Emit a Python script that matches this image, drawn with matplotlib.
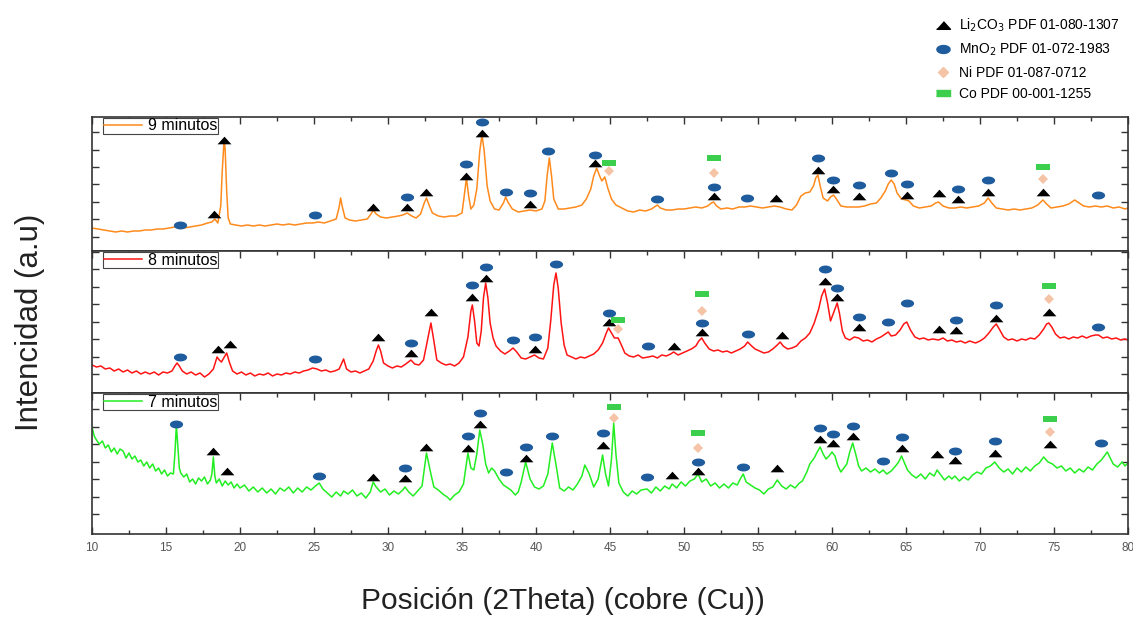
import matplotlib
matplotlib.use("Agg")
import matplotlib.pyplot as plt
from matplotlib.lines import Line2D
from matplotlib.ticker import MultipleLocator
import numpy as np

plt.rcParams['font.family'] = ['Liberation Sans', 'DejaVu Sans']

# XRD scans: (2theta, intensity a.u.)
scan_9min = [(10.0, 23), (10.4, 22), (10.8, 21), (11.2, 20), (11.6, 19), (12.0, 20), (12.4, 19),
             (12.8, 20), (13.2, 20), (13.6, 21), (14.0, 21), (14.4, 22), (14.8, 22), (15.2, 23),
             (15.6, 24), (15.9, 25), (16.2, 23), (16.6, 24), (17.0, 25), (17.4, 26), (17.8, 28),
             (18.1, 29), (18.3, 32), (18.5, 28), (18.7, 45), (18.8, 80), (18.9, 105), (18.95, 109),
             (19.0, 100), (19.1, 60), (19.2, 33), (19.35, 27), (19.7, 26), (20.1, 25), (20.5, 26),
             (20.9, 25), (21.3, 26), (21.7, 25), (22.1, 26), (22.5, 27), (22.9, 26), (23.3, 27),
             (23.7, 26), (24.1, 27), (24.5, 28), (24.9, 28), (25.3, 29), (25.7, 28), (26.1, 30),
             (26.5, 32), (26.7, 44), (26.8, 53), (26.9, 45), (27.1, 33), (27.4, 31), (27.8, 30),
             (28.2, 31), (28.6, 32), (28.9, 38), (29.0, 41), (29.2, 37), (29.5, 34), (29.9, 33),
             (30.3, 34), (30.7, 35), (31.0, 36), (31.3, 38), (31.6, 35), (31.9, 33), (32.2, 37),
             (32.45, 48), (32.6, 53), (32.8, 45), (33.0, 38), (33.4, 35), (33.8, 34), (34.2, 35),
             (34.6, 35), (35.0, 38), (35.15, 55), (35.3, 73), (35.45, 55), (35.6, 42), (35.8, 46),
             (36.0, 62), (36.2, 100), (36.35, 116), (36.5, 100), (36.7, 65), (36.9, 50), (37.2, 42),
             (37.5, 41), (37.8, 48), (37.95, 54), (38.1, 49), (38.4, 42), (38.8, 39), (39.2, 40),
             (39.6, 41), (40.0, 40), (40.4, 42), (40.6, 50), (40.75, 75), (40.9, 93), (41.05, 75),
             (41.2, 52), (41.5, 42), (41.9, 42), (42.3, 43), (42.7, 44), (43.1, 46), (43.4, 52),
             (43.7, 62), (43.9, 75), (44.1, 83), (44.3, 75), (44.45, 70), (44.65, 74), (44.85, 63),
             (45.1, 52), (45.4, 46), (45.8, 43), (46.2, 40), (46.6, 39), (47.0, 41), (47.4, 40),
             (47.8, 42), (48.0, 44), (48.2, 46), (48.4, 43), (48.8, 41), (49.2, 41), (49.6, 42),
             (50.0, 42), (50.4, 43), (50.8, 44), (51.2, 43), (51.6, 45), (51.85, 48), (52.0, 49),
             (52.2, 45), (52.5, 42), (52.9, 43), (53.3, 42), (53.7, 44), (54.1, 44), (54.5, 45),
             (54.9, 44), (55.3, 43), (55.7, 44), (56.1, 45), (56.5, 44), (56.9, 42), (57.3, 41),
             (57.6, 46), (57.9, 55), (58.2, 58), (58.5, 59), (58.75, 65), (58.9, 73), (59.05, 76),
             (59.2, 65), (59.4, 53), (59.7, 50), (59.9, 54), (60.1, 56), (60.3, 52), (60.6, 45),
             (61.0, 44), (61.4, 44), (61.8, 44), (62.2, 45), (62.6, 47), (63.0, 48), (63.3, 53),
             (63.6, 60), (63.8, 67), (64.0, 71), (64.2, 67), (64.4, 58), (64.7, 52), (65.0, 51),
             (65.2, 50), (65.5, 45), (65.9, 43), (66.3, 44), (66.7, 45), (67.0, 48), (67.2, 49),
             (67.5, 45), (67.9, 43), (68.3, 43), (68.7, 44), (69.1, 43), (69.5, 44), (69.9, 45),
             (70.3, 48), (70.55, 53), (70.8, 48), (71.1, 43), (71.5, 42), (71.9, 41), (72.3, 42),
             (72.7, 41), (73.1, 42), (73.5, 43), (73.9, 46), (74.25, 51), (74.5, 47), (74.8, 43),
             (75.2, 44), (75.6, 45), (76.0, 47), (76.4, 51), (76.7, 48), (77.0, 45), (77.4, 44),
             (77.8, 45), (78.2, 44), (78.6, 45), (79.0, 43), (79.4, 44), (79.8, 42), (80.0, 43)]

scan_8min = [(10.0, 28), (10.3, 26), (10.6, 27), (10.9, 24), (11.2, 25), (11.5, 22), (11.8, 24),
             (12.1, 21), (12.4, 23), (12.7, 20), (13.0, 22), (13.3, 19), (13.6, 21), (13.9, 19),
             (14.2, 21), (14.5, 18), (14.8, 21), (15.1, 20), (15.4, 22), (15.6, 27), (15.75, 30),
             (15.9, 27), (16.1, 22), (16.4, 19), (16.7, 21), (17.0, 18), (17.3, 20), (17.6, 16),
             (17.9, 19), (18.2, 24), (18.45, 36), (18.6, 33), (18.75, 31), (18.9, 35), (19.1, 40),
             (19.3, 30), (19.5, 22), (19.8, 19), (20.1, 21), (20.4, 18), (20.7, 20), (21.0, 17),
             (21.3, 19), (21.6, 18), (21.9, 20), (22.2, 17), (22.5, 19), (22.8, 18), (23.1, 20),
             (23.4, 19), (23.7, 21), (24.0, 20), (24.3, 22), (24.6, 23), (24.9, 25), (25.2, 24),
             (25.5, 22), (25.8, 23), (26.1, 21), (26.4, 22), (26.7, 24), (27.0, 34), (27.2, 24),
             (27.5, 21), (27.8, 22), (28.1, 20), (28.4, 22), (28.7, 24), (29.0, 32), (29.2, 42),
             (29.35, 48), (29.5, 42), (29.7, 30), (30.0, 27), (30.3, 25), (30.6, 27), (30.9, 26),
             (31.2, 29), (31.55, 33), (31.8, 29), (32.1, 28), (32.4, 33), (32.7, 55), (32.9, 70),
             (33.1, 52), (33.3, 33), (33.6, 30), (33.9, 28), (34.2, 29), (34.5, 27), (34.8, 30),
             (35.1, 36), (35.4, 56), (35.6, 82), (35.7, 88), (35.85, 72), (36.0, 50), (36.15, 47),
             (36.3, 62), (36.45, 95), (36.6, 110), (36.75, 95), (36.9, 70), (37.1, 55), (37.3, 47),
             (37.6, 42), (37.9, 39), (38.2, 42), (38.45, 45), (38.7, 41), (39.0, 35), (39.3, 34),
             (39.6, 36), (39.9, 38), (40.2, 35), (40.5, 34), (40.8, 45), (41.0, 73), (41.2, 108),
             (41.35, 120), (41.5, 105), (41.7, 70), (41.9, 48), (42.1, 38), (42.4, 36), (42.7, 34),
             (43.0, 36), (43.3, 35), (43.6, 37), (43.9, 39), (44.2, 43), (44.5, 50), (44.75, 60),
             (44.9, 65), (45.1, 60), (45.3, 55), (45.55, 55), (45.8, 47), (46.0, 40), (46.3, 37),
             (46.6, 36), (46.9, 38), (47.2, 35), (47.6, 36), (47.9, 37), (48.2, 35), (48.5, 38),
             (48.8, 37), (49.1, 39), (49.3, 41), (49.6, 38), (49.9, 40), (50.2, 42), (50.5, 44),
             (50.8, 47), (51.0, 52), (51.2, 55), (51.4, 50), (51.7, 44), (52.0, 42), (52.3, 43),
             (52.6, 41), (52.9, 42), (53.2, 40), (53.5, 42), (53.8, 44), (54.1, 47), (54.3, 51),
             (54.5, 48), (54.8, 44), (55.1, 42), (55.4, 40), (55.7, 41), (56.0, 44), (56.3, 48),
             (56.5, 51), (56.7, 47), (57.0, 44), (57.3, 45), (57.6, 47), (57.9, 52), (58.2, 55),
             (58.5, 60), (58.8, 70), (59.1, 84), (59.3, 97), (59.5, 104), (59.7, 90), (59.9, 72),
             (60.1, 80), (60.35, 90), (60.5, 80), (60.7, 62), (60.9, 55), (61.2, 53), (61.5, 56),
             (61.8, 55), (62.1, 52), (62.4, 53), (62.7, 51), (63.0, 54), (63.3, 56), (63.6, 59),
             (63.8, 61), (64.0, 57), (64.3, 58), (64.6, 63), (64.85, 69), (65.05, 71), (65.3, 63),
             (65.6, 56), (65.9, 54), (66.2, 55), (66.5, 53), (66.8, 54), (67.2, 53), (67.5, 55),
             (67.8, 52), (68.1, 53), (68.4, 51), (68.7, 52), (69.0, 50), (69.3, 52), (69.7, 50),
             (70.0, 52), (70.3, 55), (70.6, 60), (70.9, 66), (71.1, 69), (71.3, 64), (71.6, 56),
             (71.9, 53), (72.2, 54), (72.5, 52), (72.8, 54), (73.1, 53), (73.4, 55), (73.7, 54),
             (74.0, 58), (74.3, 64), (74.5, 69), (74.65, 70), (74.85, 66), (75.1, 59), (75.4, 55),
             (75.7, 56), (76.0, 54), (76.3, 56), (76.6, 55), (76.9, 57), (77.2, 55), (77.5, 57),
             (77.8, 58), (78.0, 58), (78.3, 55), (78.6, 56), (78.9, 54), (79.2, 55), (79.5, 53),
             (79.8, 54), (80.0, 53)]

scan_7min = [(10.0, 107), (10.15, 98), (10.3, 94), (10.5, 90), (10.7, 93), (10.9, 86), (11.1, 89),
             (11.3, 82), (11.5, 86), (11.7, 80), (11.9, 85), (12.1, 83), (12.3, 76), (12.5, 81),
             (12.7, 75), (12.9, 78), (13.1, 72), (13.3, 74), (13.5, 68), (13.7, 72), (13.9, 66),
             (14.1, 70), (14.3, 63), (14.5, 66), (14.7, 60), (14.9, 64), (15.1, 58), (15.3, 61),
             (15.5, 60), (15.6, 80), (15.7, 109), (15.8, 88), (15.9, 66), (16.0, 61), (16.2, 57),
             (16.4, 60), (16.6, 52), (16.8, 55), (17.0, 50), (17.2, 56), (17.4, 53), (17.6, 57),
             (17.8, 50), (18.0, 54), (18.1, 60), (18.2, 77), (18.3, 58), (18.4, 51), (18.6, 55),
             (18.8, 48), (19.0, 53), (19.2, 49), (19.4, 52), (19.6, 46), (19.8, 50), (20.0, 46),
             (20.3, 49), (20.6, 43), (20.9, 47), (21.2, 42), (21.5, 46), (21.8, 41), (22.1, 45),
             (22.4, 40), (22.7, 46), (23.0, 43), (23.3, 47), (23.6, 41), (23.9, 46), (24.2, 42),
             (24.5, 47), (24.8, 44), (25.1, 48), (25.35, 51), (25.6, 45), (25.9, 41), (26.2, 37),
             (26.5, 42), (26.8, 38), (27.0, 43), (27.3, 40), (27.6, 44), (27.9, 38), (28.2, 41),
             (28.5, 36), (28.8, 42), (29.0, 52), (29.2, 47), (29.5, 42), (29.8, 45), (30.1, 39),
             (30.4, 43), (30.7, 40), (31.0, 44), (31.15, 47), (31.4, 42), (31.7, 38), (32.0, 43),
             (32.3, 48), (32.6, 81), (32.9, 60), (33.1, 47), (33.4, 44), (33.7, 40), (34.0, 37),
             (34.2, 34), (34.5, 39), (34.8, 42), (35.1, 50), (35.4, 81), (35.6, 66), (35.8, 64),
             (36.0, 80), (36.2, 104), (36.4, 90), (36.6, 70), (36.8, 61), (37.0, 66), (37.2, 63),
             (37.5, 55), (37.8, 49), (38.0, 47), (38.3, 44), (38.6, 39), (38.8, 42), (39.0, 52),
             (39.3, 72), (39.6, 55), (39.9, 47), (40.2, 45), (40.5, 48), (40.8, 60), (41.1, 91),
             (41.4, 65), (41.6, 46), (41.9, 43), (42.2, 47), (42.5, 44), (42.8, 50), (43.1, 58),
             (43.3, 69), (43.6, 60), (43.9, 47), (44.2, 55), (44.5, 79), (44.7, 60), (44.9, 48),
             (45.1, 75), (45.25, 111), (45.4, 80), (45.6, 51), (45.9, 42), (46.2, 38), (46.5, 43),
             (46.8, 40), (47.1, 44), (47.5, 45), (47.8, 41), (48.1, 47), (48.4, 43), (48.7, 48),
             (49.0, 45), (49.2, 50), (49.5, 46), (49.8, 52), (50.1, 48), (50.4, 53), (50.7, 55),
             (50.95, 60), (51.2, 52), (51.5, 55), (51.8, 48), (52.1, 51), (52.4, 46), (52.7, 50),
             (53.0, 46), (53.3, 51), (53.6, 49), (53.8, 55), (54.0, 60), (54.2, 52), (54.5, 49),
             (54.8, 46), (55.1, 44), (55.4, 40), (55.7, 45), (56.0, 47), (56.3, 54), (56.6, 48),
             (56.9, 45), (57.2, 49), (57.5, 46), (57.8, 51), (58.0, 53), (58.3, 62), (58.5, 70),
             (58.8, 76), (59.0, 82), (59.2, 87), (59.4, 80), (59.6, 75), (59.8, 78), (60.0, 82),
             (60.2, 78), (60.4, 68), (60.6, 62), (60.8, 66), (61.0, 70), (61.2, 82), (61.4, 91),
             (61.6, 80), (61.8, 68), (62.0, 63), (62.3, 66), (62.6, 62), (62.9, 65), (63.2, 61),
             (63.45, 64), (63.7, 60), (64.0, 63), (64.3, 68), (64.5, 72), (64.7, 78), (64.9, 71),
             (65.1, 64), (65.4, 59), (65.7, 56), (66.0, 60), (66.3, 55), (66.6, 61), (66.9, 58),
             (67.1, 64), (67.3, 60), (67.6, 54), (67.9, 58), (68.1, 55), (68.3, 58), (68.6, 53),
             (68.9, 57), (69.2, 54), (69.5, 59), (69.8, 62), (70.1, 60), (70.4, 66), (70.7, 68),
             (71.0, 72), (71.3, 66), (71.6, 62), (71.9, 65), (72.2, 60), (72.5, 66), (72.8, 62),
             (73.1, 67), (73.4, 63), (73.7, 68), (74.0, 71), (74.3, 77), (74.6, 72), (74.9, 70),
             (75.2, 66), (75.5, 68), (75.8, 63), (76.1, 66), (76.4, 61), (76.7, 65), (77.0, 62),
             (77.3, 67), (77.6, 64), (77.9, 70), (78.2, 74), (78.4, 78), (78.6, 82), (78.8, 76),
             (79.0, 70), (79.3, 67), (79.6, 72), (79.8, 68), (80.0, 71)]

# phase markers per scan: (2theta, height)
li2co3_9 = [(18.25, 37), (18.9, 111), (29.0, 44), (31.3, 44), (32.6, 59), (35.3, 75), (36.35, 118),
            (39.6, 47), (44.0, 88), (52.0, 55), (56.2, 53), (59.05, 81), (60.1, 62), (61.8, 55),
            (65.1, 56), (67.2, 58), (68.5, 52), (70.55, 59), (74.25, 59)]
mno2_9 = [(15.95, 26), (25.1, 36), (31.3, 54), (35.3, 87), (36.35, 129), (37.95, 59), (39.6, 58),
          (40.8, 100), (44.0, 96), (48.2, 52), (52.0, 64), (54.25, 53), (59.05, 93), (60.1, 71),
          (61.8, 66), (64.0, 78), (65.1, 67), (68.5, 62), (70.55, 71), (78.0, 56)]
ni_9 = [(44.9, 80), (52.0, 78), (74.25, 72)]
co_9 = [(44.9, 88), (52.0, 93), (74.25, 84)]

li2co3_8 = [(18.5, 44), (19.3, 49), (29.3, 56), (31.55, 40), (32.9, 81), (35.7, 96), (36.6, 115),
            (39.9, 44), (44.9, 71), (49.3, 47), (51.2, 61), (56.6, 58), (59.5, 112), (60.35, 96),
            (61.8, 66), (67.2, 64), (68.4, 63), (71.1, 75), (74.65, 81)]
mno2_8 = [(15.95, 36), (25.1, 34), (31.55, 50), (35.7, 108), (36.6, 126), (38.45, 53), (39.9, 56),
          (41.35, 129), (44.9, 80), (47.6, 47), (51.2, 70), (54.3, 59), (59.5, 124), (60.35, 105),
          (61.8, 76), (63.8, 71), (65.05, 90), (68.4, 73), (71.1, 88), (78.0, 66)]
ni_8 = [(45.55, 64), (51.2, 82), (74.65, 94)]
co_8 = [(45.55, 73), (51.2, 99), (74.65, 107)]

li2co3_7 = [(18.2, 83), (19.1, 63), (29.0, 57), (31.15, 56), (32.6, 87), (35.4, 86), (36.2, 110),
            (39.3, 76), (44.5, 89), (49.2, 59), (50.95, 63), (56.3, 66), (59.2, 95), (60.1, 91),
            (61.4, 98), (64.7, 86), (67.1, 80), (68.3, 74), (71.0, 81), (74.7, 90)]
mno2_7 = [(15.7, 110), (25.35, 58), (31.15, 66), (35.4, 98), (36.2, 121), (38.0, 62), (39.3, 87),
          (41.1, 98), (44.5, 101), (47.5, 57), (50.95, 72), (54.0, 67), (59.2, 106), (60.1, 100),
          (61.4, 108), (63.45, 73), (64.7, 97), (68.3, 83), (71.0, 93), (78.2, 91)]
ni_7 = [(45.25, 116), (50.95, 86), (74.7, 102)]
co_7 = [(45.25, 127), (50.95, 101), (74.7, 115)]

labels = ['9 minutos', '8 minutos', '7 minutos']
scans = [scan_9min, scan_8min, scan_7min]
line_colors = ['#ff8a1c', '#ff1414', '#22ee22']
phase_sets = [(li2co3_9, mno2_9, ni_9, co_9),
              (li2co3_8, mno2_8, ni_8, co_8),
              (li2co3_7, mno2_7, ni_7, co_7)]

phase_names = ['Li$_2$CO$_3$ PDF 01-080-1307', 'MnO$_2$ PDF 01-072-1983',
               'Ni PDF 01-087-0712', 'Co PDF 00-001-1255']

# marker shapes
t = np.linspace(0, 2 * np.pi, 40)
ell_marker = list(zip(np.cos(t), 0.6 * np.sin(t)))
tri_marker = [(-1, -0.55), (1, -0.55), (0, 0.55)]
rect_marker = [(-1, -0.5), (1, -0.5), (1, 0.5), (-1, 0.5)]
styles = [dict(marker=tri_marker, color='black', markersize=10),
          dict(marker=ell_marker, color='#1f5c9e', markersize=9.5),
          dict(marker='D', color='#f5c3a6', markersize=5.5),
          dict(marker=rect_marker, color='#3ccf4e', markersize=9.5)]

fig = plt.figure(figsize=(11.33, 6.2), dpi=100)
W, H = 1133.0, 620.0
left, right = 92, 1128
panels = [(117, 251), (251, 393), (393, 534)]   # pixel top/bottom of each panel
tick_base = [14, 19, 20]

for k, (top, bot) in enumerate(panels):
    ax = fig.add_axes([left / W, 1 - bot / H, (right - left) / W, (bot - top) / H])
    xs = [p[0] for p in scans[k]]
    ys = [p[1] for p in scans[k]]
    ax.plot(xs, ys, color=line_colors[k], lw=1.1, label=labels[k])
    for phase, st in zip(phase_sets[k], styles):
        ax.plot([p[0] for p in phase], [p[1] for p in phase], ls='none', clip_on=False,
                zorder=4, markeredgewidth=0, **st)
    ax.set_xlim(10, 80)
    ax.set_ylim(0, bot - top)
    ax.xaxis.set_major_locator(MultipleLocator(5))
    ax.xaxis.set_minor_locator(MultipleLocator(2.5))
    ax.set_yticks(np.arange(tick_base[k], bot - top, 17.5))
    ax.tick_params(axis='both', which='both', direction='in', left=True, right=True,
                   top=True, bottom=(k == 2), labelleft=False, labelbottom=(k == 2),
                   colors='#333333', labelcolor='#555555', labelsize=8.5, pad=6)
    ax.tick_params(which='major', length=5, width=1)
    ax.tick_params(which='minor', length=3, width=1)
    for sp in ax.spines.values():
        sp.set_color('#333333')
        sp.set_linewidth(1.2)
    leg = ax.legend(loc='upper left', bbox_to_anchor=(11 / (right - left), 0.995),
                    fontsize=11.5, handlelength=2.4, handletextpad=0.35,
                    borderpad=0.05, borderaxespad=0, fancybox=False, framealpha=1)
    leg.get_frame().set_edgecolor('#444444')
    leg.get_frame().set_linewidth(0.8)

handles = [Line2D([], [], ls='none', **st) for st in styles]
fig.legend(handles, phase_names, loc='upper left', bbox_to_anchor=(928 / W, 1 - 11 / H),
           frameon=False, fontsize=10, labelspacing=0.55, handlelength=1.4,
           handletextpad=0.4, borderaxespad=0)

fig.text(30 / W, 1 - 322 / H, 'Intencidad (a.u)', rotation=90, fontsize=22.5,
         ha='center', va='center', color='#222222')
fig.text(563 / W, 1 - 601 / H, 'Posición (2Theta) (cobre (Cu))', fontsize=21.5,
         ha='center', va='center', color='#222222')

fig.savefig('out.png', dpi=100)
